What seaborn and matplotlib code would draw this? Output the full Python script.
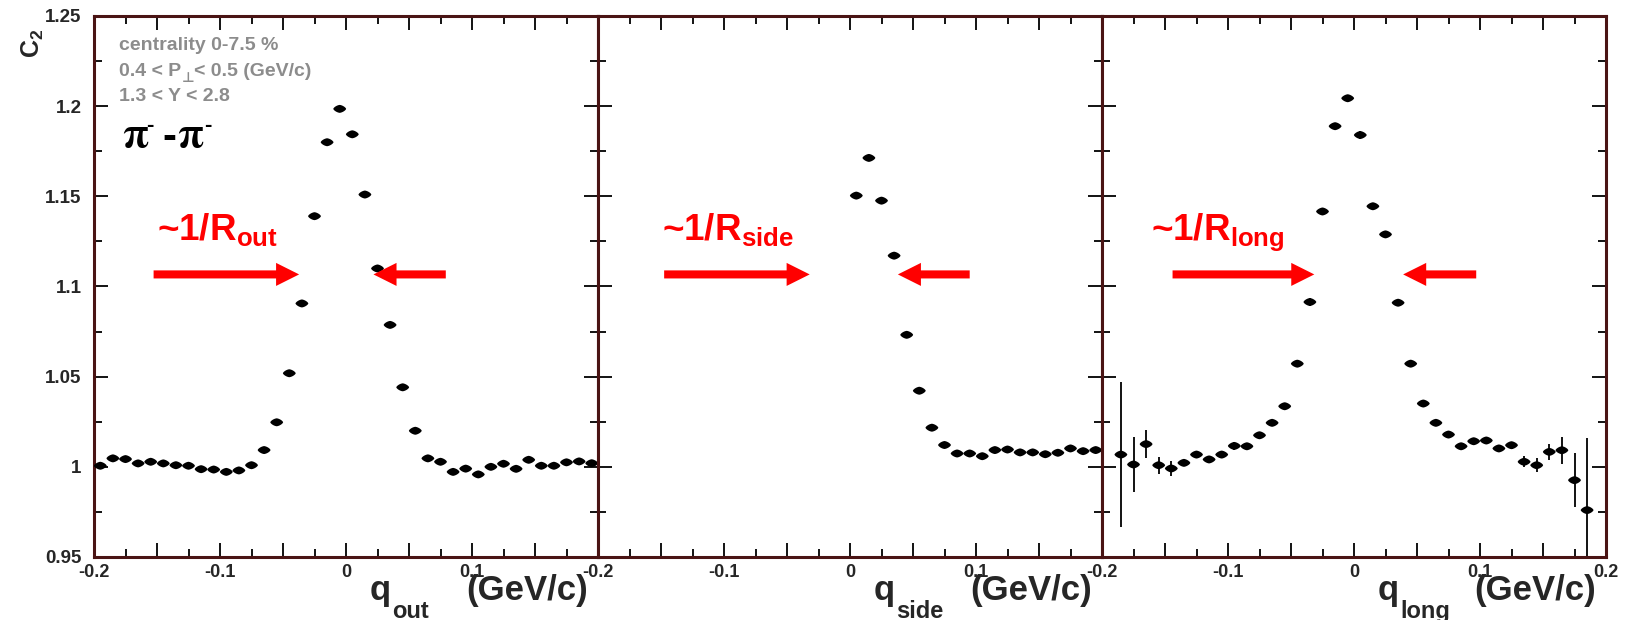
import numpy as np
import pandas as pd
import seaborn as sns
import matplotlib
matplotlib.use("Agg")
import matplotlib.pyplot as plt
from matplotlib.path import Path
from matplotlib.markers import MarkerStyle
from matplotlib.ticker import MultipleLocator, FuncFormatter

# ---- correlation function C2 projections (bin centres in GeV/c) ----
q_out = [-0.195, -0.185, -0.175, -0.165, -0.155, -0.145, -0.135, -0.125, -0.115, -0.105,
         -0.095, -0.085, -0.075, -0.065, -0.055, -0.045, -0.035, -0.025, -0.015, -0.005,
         0.005, 0.015, 0.025, 0.035, 0.045, 0.055, 0.065, 0.075, 0.085, 0.095,
         0.105, 0.115, 0.125, 0.135, 0.145, 0.155, 0.165, 0.175, 0.185, 0.195]
c2_out = [1.0006, 1.0047, 1.0043, 1.0019, 1.0028, 1.0019, 1.0009, 1.0006, 0.9987, 0.9985,
          0.9972, 0.9980, 1.0009, 1.0093, 1.0247, 1.0519, 1.0906, 1.1390, 1.1800, 1.1985,
          1.1844, 1.1510, 1.1100, 1.0787, 1.0441, 1.0200, 1.0047, 1.0028, 0.9972, 0.9990,
          0.9958, 1.0000, 1.0017, 0.9989, 1.0039, 1.0006, 1.0006, 1.0025, 1.0030, 1.0020]

q_side = [0.005, 0.015, 0.025, 0.035, 0.045, 0.055, 0.065, 0.075, 0.085, 0.095,
          0.105, 0.115, 0.125, 0.135, 0.145, 0.155, 0.165, 0.175, 0.185, 0.195]
c2_side = [1.1504, 1.1713, 1.1476, 1.1171, 1.0732, 1.0422, 1.0217, 1.0121, 1.0074, 1.0074,
           1.0059, 1.0093, 1.0096, 1.0080, 1.0080, 1.0070, 1.0078, 1.0102, 1.0087, 1.0093]

q_long = [-0.185, -0.175, -0.165, -0.155, -0.145, -0.135, -0.125, -0.115, -0.105, -0.095,
          -0.085, -0.075, -0.065, -0.055, -0.045, -0.035, -0.025, -0.015, -0.005, 0.005,
          0.015, 0.025, 0.035, 0.045, 0.055, 0.065, 0.075, 0.085, 0.095, 0.105,
          0.115, 0.125, 0.135, 0.145, 0.155, 0.165, 0.175, 0.185]
c2_long = [1.0068, 1.0013, 1.0126, 1.0009, 0.9991, 1.0022, 1.0068, 1.0041, 1.0068, 1.0116,
           1.0114, 1.0175, 1.0244, 1.0336, 1.0572, 1.0914, 1.1416, 1.1889, 1.2044, 1.1840,
           1.1445, 1.1289, 1.0910, 1.0572, 1.0351, 1.0244, 1.0179, 1.0114, 1.0142, 1.0146,
           1.0102, 1.0120, 1.0028, 1.0009, 1.0083, 1.0092, 0.9926, 0.9760]
err_long = [0.040, 0.015, 0.0077, 0.0046, 0.004, 0.002, 0.002, 0.002, 0.002, 0.002,
            0.002, 0.002, 0.002, 0.002, 0.002, 0.002, 0.002, 0.002, 0.002, 0.002,
            0.002, 0.002, 0.002, 0.002, 0.002, 0.002, 0.002, 0.002, 0.002, 0.002,
            0.002, 0.002, 0.003, 0.004, 0.0046, 0.0074, 0.015, 0.040]

axis_names = ["out", "side", "long"]

sns.set_theme(style="white")
plt.rcParams["font.family"] = ["Liberation Sans", "DejaVu Sans"]
plt.rcParams["font.weight"] = "bold"
plt.rcParams["axes.unicode_minus"] = False
plt.rcParams["mathtext.fontset"] = "custom"
plt.rcParams["mathtext.rm"] = "Liberation Sans:bold"
plt.rcParams["mathtext.it"] = "Liberation Sans:bold"
plt.rcParams["mathtext.bf"] = "Liberation Sans:bold"
plt.rcParams["mathtext.sf"] = "Liberation Sans:bold"

# flattened, slightly pointed marker
t = np.linspace(0, 2 * np.pi, 60)
px = np.sign(np.cos(t)) * np.abs(np.cos(t)) ** (2 / 1.5)
py = 0.62 * np.sign(np.sin(t)) * np.abs(np.sin(t)) ** (2 / 1.5)
dot = MarkerStyle(Path(np.column_stack([px, py]), closed=True))

frame = "#4a1414"
fig, axes = plt.subplots(1, 3, figsize=(16.32, 6.2), dpi=100, sharey=True)
fig.subplots_adjust(left=94 / 1632, right=1606 / 1632, top=1 - 16 / 620,
                    bottom=1 - 557 / 620, wspace=0)
renderer = fig.canvas.get_renderer()

panels = [(q_out, c2_out, None), (q_side, c2_side, None), (q_long, c2_long, err_long)]


def xfmt_factory(show_last):
    def f(v, pos):
        k = v / 0.1
        if abs(k - round(k)) > 1e-6:
            return ""
        if abs(v - 0.2) < 1e-6 and not show_last:
            return ""
        return "%g" % round(v, 3)
    return f


def place(ax, s, anchor, coords, dx, dy, **kw):
    """Text at a pixel offset from an anchor; returns its width in pixels."""
    a = ax.annotate(s, xy=anchor, xycoords=coords, xytext=(dx, dy),
                    textcoords="offset pixels", va="baseline",
                    annotation_clip=False, **kw)
    return a.get_window_extent(renderer).width


for i, (ax, (qx, cy, err)) in enumerate(zip(axes, panels)):
    df = pd.DataFrame({"q": qx, "C2": cy})
    if err is not None:
        ax.errorbar(qx, cy, yerr=err, fmt="none", ecolor="black", elinewidth=1.3,
                    capsize=0, zorder=2)
    sns.scatterplot(data=df, x="q", y="C2", ax=ax, marker=dot, s=85,
                    color="black", edgecolor="none", linewidth=0, zorder=3)
    ax.set_xlim(-0.2, 0.2)
    ax.set_ylim(0.95, 1.25)
    ax.set_xlabel("")
    ax.set_ylabel("")
    ax.xaxis.set_major_locator(MultipleLocator(0.05))
    ax.xaxis.set_minor_locator(MultipleLocator(0.025))
    ax.yaxis.set_major_locator(MultipleLocator(0.05))
    ax.yaxis.set_minor_locator(MultipleLocator(0.025))
    ax.xaxis.set_major_formatter(FuncFormatter(xfmt_factory(i == 2)))
    ax.yaxis.set_major_formatter(FuncFormatter(lambda v, p: "%g" % round(v, 3)))
    ax.tick_params(which="both", direction="in", top=True, right=True,
                   bottom=True, left=True, color="black", width=1.3,
                   labelsize=13, pad=5)
    ax.tick_params(which="major", length=10)
    ax.tick_params(which="minor", length=5.5)
    ax.tick_params(axis="y", which="major", pad=9, labelsize=13.5)
    for lab in ax.get_xticklabels() + ax.get_yticklabels():
        lab.set_fontweight("bold")
    for s in ax.spines.values():
        s.set_color(frame)
        s.set_linewidth(2.2)
        s.set_visible(True)

    # axis title: q with a dropped subscript, units right-aligned
    place(ax, "(GeV/c)", (1, 0), "axes fraction", -10, -43, ha="right",
          fontsize=25, fontweight="bold")
    qw = place(ax, "q", (1, 0), "axes fraction", -228, -43, ha="left",
               fontsize=25, fontweight="bold")
    place(ax, axis_names[i], (1, 0), "axes fraction", -228 + qw + 1, -61,
          ha="left", fontsize=17, fontweight="bold")

# red width markers: label and converging arrows
label_x = [-0.150, -0.149, -0.161]
right_arrows = [(-0.1527, -0.0372), (-0.1475, -0.032), (-0.144, -0.0315)]
left_arrows = [(0.0792, 0.0218), (0.095, 0.038), (0.097, 0.039)]
arrow_y = 1.1067
style = "simple,head_length=1.66,head_width=1.66,tail_width=0.58"
for i, ax in enumerate(axes):
    ax.text(label_x[i], 1.1256, "~1/R$_{%s}$" % axis_names[i], color="red",
            fontsize=26.5, fontweight="bold", va="baseline", ha="left")
    for tail, tip in (right_arrows[i], left_arrows[i]):
        ax.annotate("", xy=(tip, arrow_y), xytext=(tail, arrow_y),
                    arrowprops=dict(arrowstyle=style, mutation_scale=10,
                                    color="red", lw=0, shrinkA=0, shrinkB=0))

# selection cuts in the first panel
a0 = axes[0]
grey = dict(color="#8c8c8c", fontsize=14, fontweight="bold", ha="left")
a0.text(-0.180, 1.2309, "centrality 0-7.5 %", va="baseline", **grey)
a0.text(-0.180, 1.2031, "1.3 < Y < 2.8", va="baseline", **grey)
w1 = place(a0, "0.4 < P", (-0.180, 1.2170), "data", 0, 0, **grey)
w2 = place(a0, "\u22a5", (-0.180, 1.2170), "data", w1, -6, color="#8c8c8c",
           fontsize=10, fontweight="bold", ha="left",
           family=["DejaVu Sans"])
place(a0, "< 0.5 (GeV/c)", (-0.180, 1.2170), "data", w1 + w2, 0, **grey)

# pair label pi- - pi-
pair_anchor = (-0.1777, 1.1776)
pair_parts = [("π", 0, 0, 30, "STIXGeneral", "bold"),
              ("-", 24, 16, 16, "Liberation Sans", "bold"),
              ("-", 40, -2, 30, "Liberation Sans", "bold"),
              ("π", 55, 0, 30, "STIXGeneral", "bold"),
              ("-", 82, 16, 16, "Liberation Sans", "bold")]
for s, dx, dy, fs, fam, wt in pair_parts:
    place(a0, s, pair_anchor, "data", dx, dy, ha="left", fontsize=fs,
          family=[fam, "DejaVu Sans"], fontweight=wt, color="black")

fig.text(33 / 1632, 1 - 29 / 620, r"$C_{2}$", rotation=90, ha="center", va="top",
         fontsize=18, fontweight="bold")

fig.savefig("out.png", dpi=100, facecolor="white")
